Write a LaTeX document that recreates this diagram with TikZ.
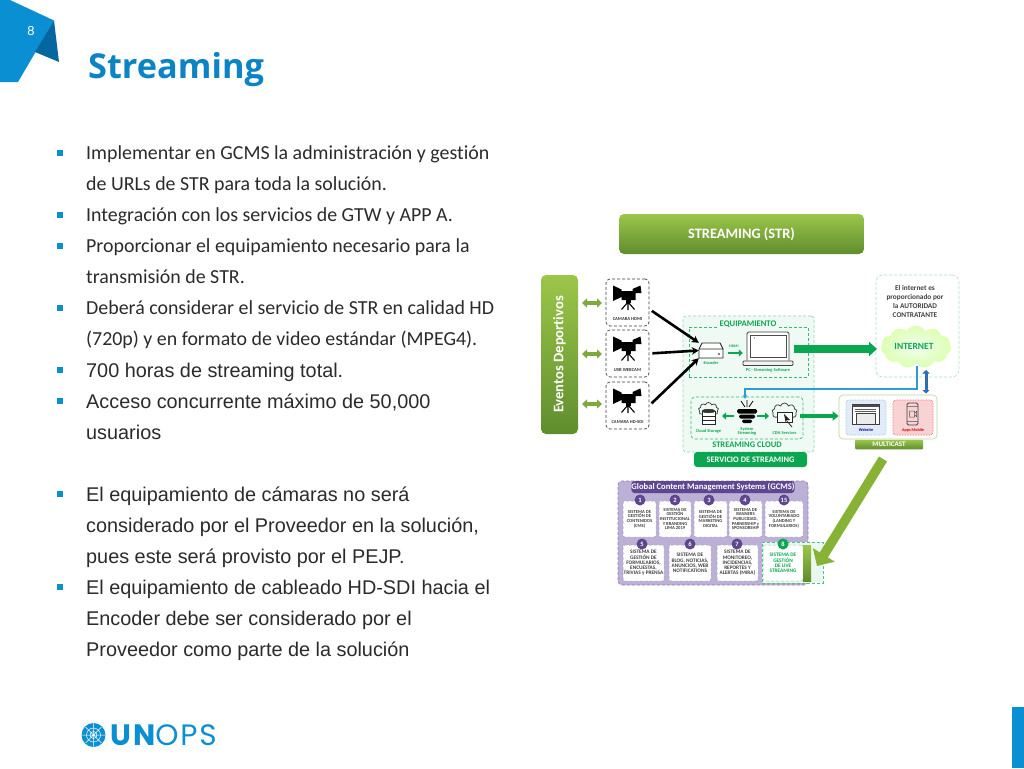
\documentclass[tikz,border=0pt]{standalone}
\usepackage{fontspec}
\setmainfont[Ligatures=NoCommon]{Carlito}
\newfontfamily\arialf{Liberation Sans}
\newfontfamily\titlef{Open Sans}
\newfontfamily\logof[LetterSpace=6]{Poppins}
\usetikzlibrary{arrows.meta,shapes.symbols,calc}
\definecolor{unblue}{HTML}{0A8FD2}
\definecolor{undark}{HTML}{06669F}
\definecolor{titleblue}{HTML}{0B84C6}
\definecolor{bodytxt}{HTML}{2B2B2B}
\definecolor{strg}{HTML}{0BA650}
\definecolor{limeT}{HTML}{9CC649}
\definecolor{limeB}{HTML}{5F8D2E}
\definecolor{limeA}{HTML}{7FA83E}
\definecolor{limeD}{HTML}{86B236}
\definecolor{purp}{HTML}{5E4691}
\definecolor{purpL}{HTML}{BDB0D6}
\definecolor{wire}{HTML}{2F9BD6}
\definecolor{dblue}{HTML}{2F6DB5}
\definecolor{webfill}{HTML}{E2ECF8}
\definecolor{webline}{HTML}{8FB8E4}
\definecolor{appfill}{HTML}{F9D3D3}
\newcommand{\fsz}[1]{\fontsize{#1}{#1}\selectfont}
\tikzset{
 x=1pt,y=-1pt,
 bodyA/.style={anchor=base west,inner sep=0pt,text=bodytxt,font=\fsz{19.9}},
 bodyB/.style={anchor=base west,inner sep=0pt,text=bodytxt,font=\arialf\fsz{19.85}},
 bulletmark/.style={fill=unblue,inner sep=0pt,minimum size=6pt,draw=none},
 limebar/.style={rounded corners=5pt,top color=limeT,bottom color=limeB,draw=none,text=white,inner sep=0pt,font=\bfseries},
 cambox/.style={draw=black!75,densely dashed,rounded corners=4pt,fill=white,line width=.7pt,minimum width=43pt,minimum height=47pt,inner sep=0pt},
 camlabel/.style={inner sep=0pt,font=\bfseries\fsz{4.6},text=black!80},
 greenbox/.style={draw=strg!80,densely dashed,line width=.7pt,inner sep=0pt},
 tiny/.style={inner sep=0pt,font=\bfseries\fsz{4.4},text=strg,align=center},
 dbl/.style={draw=limeA,line width=3.2pt,{Triangle[length=5pt,width=9pt]}-{Triangle[length=5pt,width=9pt]}},
 feed/.style={draw=black,line width=2.6pt,-{Stealth[length=7pt,width=7.5pt]},shorten <=3pt},
 gbox/.style={fill=white,draw=purp!55,densely dashed,line width=.5pt,rounded corners=2pt,inner sep=0pt,align=center,font=\bfseries\fsz{4.6},text=black!75},
 gboxb/.style={gbox,font=\bfseries\fsz{5.3}},
 badge/.style={circle,fill=purp,text=white,inner sep=0pt,minimum size=11pt,font=\bfseries\fsz{6.5}},
 camera/.pic={
  \fill[black] (-14.5,-16.5) -- (-6,-12.5) -- (-6,-11) -- (5,-11) -- (5,-13) -- (13,-16.5) -- (14,-9) -- (8,-9) -- (8,-2) -- (-6,-2) -- (-6,-5) -- (-14.5,-1) -- cycle;
  \fill[black] (-2,-2) rectangle (3,0.5);
  \draw[black,line width=1.1pt] (.5,-.5) -- (.5,8) (.5,0) -- (-6,7.5) (.5,0) -- (7,7.5);
 }
}
\begin{document}
\begin{tikzpicture}
\useasboundingbox (0,0) rectangle (1024,768);
\fill[white] (0,0) rectangle (1024,768);
% corner and bar
\fill[unblue] (0,0) -- (10,0) -- (54,20.5) -- (35,53) -- (18,82) -- (0,82) -- cycle;
\fill[undark] (54,20.5) -- (59,62) -- (35,52) -- cycle;
\node[inner sep=0pt,text=white,font=\arialf\fsz{13}] (pageno) at (31,31) {8};
\fill[unblue] (1012,707) rectangle (1024,768);
\node[anchor=base west,inner sep=0pt,text=titleblue,font=\titlef\bfseries\fsz{34.3}] (title) at (88,78) {Streaming};
% body text
\foreach \yy in {153,215,246,308,370,401,494,587}{\node[bulletmark] at (60,\yy) {};}
\node[bodyA] (t1) at (86,159) {Implementar en GCMS la administración y gestión};
\node[bodyA] (t2) at (86,190) {de URLs de STR para toda la solución.};
\node[bodyA] (t3) at (86,221) {Integración con los servicios de GTW y APP A.};
\node[bodyA] (t4) at (86,252) {Proporcionar el equipamiento necesario para la};
\node[bodyA] (t5) at (86,283) {transmisión de STR.};
\node[bodyA] (t6) at (86,314) {Deberá considerar el servicio de STR en calidad HD};
\node[bodyA] (t7) at (86,345) {(720p) y en formato de video estándar (MPEG4).};
\node[bodyB] (t8) at (86,377) {700 horas de streaming total.};
\node[bodyB] (t9) at (86,408) {Acceso concurrente máximo de 50,000};
\node[bodyB] (t10) at (86,439) {usuarios};
\node[bodyB] (t11) at (86,501) {El equipamiento de cámaras no será};
\node[bodyB] (t12) at (86,532) {considerado por el Proveedor en la solución,};
\node[bodyB] (t13) at (86,563) {pues este será provisto por el PEJP.};
\node[bodyB] (t14) at (86,594) {El equipamiento de cableado HD-SDI hacia el};
\node[bodyB] (t15) at (86,625) {Encoder debe ser considerado por el};
\node[bodyB] (t16) at (86,656) {Proveedor como parte de la solución};
% logo
\begin{scope}[shift={(93.5,735)}]
 \fill[unblue] (0,0) circle (12);
 \draw[white,line width=.5pt] (0,0) circle (3.5) (0,0) circle (7) (-12,0) -- (12,0) (0,-12) -- (0,12) (-8,-8) -- (8,8) (-8,8) -- (8,-8);
\end{scope}
\node[anchor=base west,inner sep=0pt,text=unblue,font=\logof\fsz{29.5}] (unops) at (110.5,745) {{\bfseries UN}OPS};
% diagram
\node[limebar,minimum width=245pt,minimum height=40pt,font=\bfseries\fsz{14.4}] (strbar) at (741.5,234) {STREAMING (STR)};
\node[limebar,minimum width=37pt,minimum height=159pt] (eventos) at (559.5,354.5) {};
\node[inner sep=0pt,text=white,font=\bfseries\fsz{14.6},rotate=90] (eventosT) at (559.5,354.5) {Eventos Deportivos};
\node[cambox] (camA) at (627.5,302.5) {};
\node[cambox] (camB) at (627.5,353.5) {};
\node[cambox] (camC) at (627.5,405.5) {};
\pic at (627.5,302) {camera};
\pic at (627.5,353) {camera};
\pic at (627.5,405) {camera};
\node[camlabel] (labA) at (627.5,319) {CAMARA HDMI};
\node[camlabel] (labB) at (627.5,370.5) {USB WEBCAM};
\node[camlabel] (labC) at (627.5,422.5) {CAMARA HD-SDI};
\draw[dbl] (582,303) -- (602,303);
\draw[dbl] (582,354) -- (602,354);
\draw[dbl] (582,404) -- (602,404);
% servicio
\node[draw=strg!45,densely dashed,fill=strg!6,rounded corners=3pt,minimum width=131pt,minimum height=136pt,inner sep=0pt,line width=.6pt] (srv) at (748.5,384) {};
\node[greenbox,minimum width=119pt,minimum height=50pt] (equip) at (748.5,352) {};
\node[inner sep=1pt,text=strg,font=\bfseries\fsz{8.6},fill=strg!6] (equipT) at (748,324.5) {EQUIPAMIENTO};
\node[greenbox,rounded corners=4pt,minimum width=112pt,minimum height=42pt] (cloudbox) at (747,418) {};
\node[inner sep=0pt,text=strg,font=\bfseries\fsz{8.5}] (cloudT) at (747,445) {STREAMING CLOUD};
\node[rounded corners=3pt,fill=strg,text=white,minimum width=113pt,minimum height=15pt,inner sep=0pt,font=\bfseries\fsz{8.4}] (srvbar) at (750.5,459.5) {SERVICIO DE STREAMING};
% encoder
\node[minimum width=24pt,minimum height=15pt,inner sep=0pt] (enc) at (711,350.5) {};
\draw[black!85,line width=.9pt,fill=white,line join=round] (702,343) -- (720,343) -- (723,349) -- (723,358) -- (699,358) -- (699,349) -- cycle (699,349) -- (723,349);
\fill[black] (719,354) circle (.8);
\node[tiny] (encT) at (711,363) {Encoder};
% laptop
\node[minimum width=50pt,minimum height=34pt,inner sep=0pt] (lap) at (768,349) {};
\draw[black!75,line width=.9pt,fill=white,rounded corners=1.5pt] (747,360.5) -- (747,332) -- (789,332) -- (789,360.5);
\draw[black!70,line width=.7pt] (750,335) rectangle (786,357);
\draw[black!75,line width=.8pt,fill=black!5,rounded corners=1pt] (743,361) rectangle (793,365.5);
\fill[black!60] (754.5,338) circle (.7);
\node[tiny] (lapT) at (768,370) {PC - Streaming Software};
\node[tiny,font=\bfseries\fsz{3.8}] (hdmiT) at (734,346) {HDMI};
\draw[strg,line width=2.6pt,-{Triangle[length=4pt,width=7pt]}] (728,353) -- (lap.west |- 0,353);
% internet
\node[draw=strg!35,densely dashed,fill=white,rounded corners=7pt,minimum width=83pt,minimum height=102pt,inner sep=0pt,line width=.6pt] (netbox) at (917.5,326) {};
\node[inner sep=0pt,align=center,font=\bfseries\fsz{7.3},text=black!75] (netT) at (915,301.5) {El internet es\\[1.7pt]proporcionado por\\[1.7pt]la AUTORIDAD\\[1.7pt]CONTRATANTE};
\node[cloud,cloud puffs=11,cloud puff arc=120,cloud ignores aspect,minimum width=70pt,minimum height=42pt,inner sep=0pt,inner color=white!70!green!18,outer color=green!45!yellow!30,draw=green!40!yellow!30,line width=.4pt] (net) at (916,347) {};
\node[inner sep=0pt,text=strg,font=\bfseries\fsz{9.5}] (netL) at (914,346.5) {INTERNET};
\coordinate (bigTip) at (877,349);
\draw[strg,line width=7.5pt,-{Triangle[length=8pt,width=14pt]}] (lap.east |- bigTip) ++(1,0) -- (bigTip);
% multicast
\node[draw=limeA!50,fill=white,rounded corners=4pt,minimum width=98pt,minimum height=44pt,inner sep=0pt,line width=.6pt] (mc) at (888,417) {};
\node[limebar,rounded corners=1pt,minimum width=68pt,minimum height=9.5pt,font=\bfseries\fsz{7}] (mcbar) at (889,444.5) {MULTICAST};
\node[draw=webline,densely dotted,fill=webfill,rounded corners=3pt,minimum width=40pt,minimum height=35pt,inner sep=0pt,line width=.6pt] (web) at (866,417.5) {};
\node[draw=red!70,densely dotted,fill=appfill,rounded corners=3pt,minimum width=40pt,minimum height=35pt,inner sep=0pt,line width=.6pt] (app) at (913,417.5) {};
\draw[black!75,fill=white,line width=.8pt] (852,404.5) rectangle (879,424);
\fill[black!70] (852,404.5) rectangle (879,407);
\draw[black!65,line width=.5pt] (855,409) -- (876,409) (855,411) -- (876,411);
\draw[black!75,line width=.8pt,fill=black!8] (856,413) rectangle (875,424);
\node[inner sep=0pt,font=\bfseries\fsz{4.2},text=blue!60!black] (webT) at (866,430) {Website};
\draw[black!75,fill=none,line width=.8pt,rounded corners=1.5pt] (907,403) rectangle (918,425);
\draw[black!70,line width=.5pt] (907,406.5) -- (918,406.5) (907,421.5) -- (918,421.5) (909.5,411) rectangle (914.5,417) (914.5,413) -- (916.5,411.5) -- (916.5,416.5) -- (914.5,415);
\node[inner sep=0pt,font=\bfseries\fsz{4.2},text=red!80!black] (appT) at (913,430) {Apps Mobile};
% cloud icons
\node[cloud,cloud puffs=9,cloud ignores aspect,draw=black!80,line width=.7pt,minimum width=20pt,minimum height=15pt,inner sep=0pt] (store) at (708.5,410) {};
\draw[black!85,fill=white,line width=.6pt] (702,411) rectangle (715,424);
\draw[black!85,fill=black!80] (708.5,411) ellipse (6.5 and 1.8);
\draw[black!85,line width=.6pt] (702,416) -- (715,416) (702,420) -- (715,420);
\node[tiny] (storeT) at (708.5,431) {Cloud Storage};
\node[minimum width=20pt,minimum height=23pt,inner sep=0pt] (sys) at (747,411.5) {};
\fill[black,rounded corners=1.5pt] (737,409) rectangle (757,413.5);
\fill[black,rounded corners=1.5pt] (739,414.5) rectangle (755,418.5);
\fill[black,rounded corners=1.5pt] (742,419.5) rectangle (752,423);
\draw[black,line width=.8pt] (741,401) -- (745,407) (747,400) -- (747,407) (753,401) -- (749,407);
\node[tiny] (sysT) at (747,431) {System\\[-.5pt]Streaming};
\node[cloud,cloud puffs=9,cloud ignores aspect,draw=black!80,line width=.7pt,minimum width=25pt,minimum height=18pt,inner sep=0pt] (cdn) at (784.5,412) {};
\draw[black!85,fill=white,line width=.7pt] (777,412) rectangle (792,422);
\fill[black!85] (784,414) -- (790,420) -- (787,420) -- (785.5,422) -- cycle;
\draw[black!85,line width=.8pt] (787,421) -- (792,427);
\node[tiny] (cdnT) at (784.5,432.5) {CDN Services};
\draw[strg,line width=2.6pt,-{Triangle[length=4pt,width=7pt]}] (734,416) -- (722,416);
\draw[strg,line width=2.6pt,-{Triangle[length=4pt,width=7pt]}] (757,416) -- (769,416);
\draw[strg,line width=4.5pt,-{Triangle[length=6pt,width=9pt]}] (800,416) -- (mc.west |- 0,416);
% blue links
\draw[wire,line width=1.1pt,-{Stealth[length=4pt,width=4pt]}] (917,366) -- (917,389) -- (745,389) -- (745,399);
\draw[dblue,line width=3pt,{Triangle[length=3.5pt,width=7pt]}-{Triangle[length=3.5pt,width=7pt]}] (926,370) -- (926,393.5);
% black feeds
\draw[feed] (camA.-17) -- (enc.north west);
\draw[feed] (camB.east) -- (enc.west);
\draw[feed] (camC.east) -- (enc.south west);
% GCMS
\node[draw=purp!70,densely dashed,fill=purpL,rounded corners=4pt,minimum width=190pt,minimum height=104pt,inner sep=0pt,line width=.7pt] (gcms) at (713,533) {};
\node[rounded corners=3pt,fill=purp,text=white,minimum width=160pt,minimum height=12pt,inner sep=0pt,font=\bfseries\fsz{8.6}] (gcmsT) at (713,487) {Global Content Management Systems (GCMS)};
\node[gbox,minimum width=33pt,minimum height=36pt] (g1) at (639.5,519) {SISTEMA DE\\GESTIÓN DE\\CONTENIDOS\\(CMS)};
\node[gbox,minimum width=32pt,minimum height=36pt] (g2) at (675,519) {SISTEMA DE\\GESTIÓN\\INSTITUCIONAL\\Y BRANDING\\LIMA 2019};
\node[gbox,minimum width=33pt,minimum height=36pt] (g3) at (710.5,519) {SISTEMA DE\\GESTIÓN DE\\MARKETING\\DIGITAL};
\node[gbox,minimum width=33pt,minimum height=36pt] (g4) at (745.5,519) {SISTEMA DE\\BANNERS\\PUBLICIDAD,\\PARNERSHIP y\\SPONSORSHIP};
\node[gbox,minimum width=38pt,minimum height=36pt] (g15) at (784,519) {SISTEMA DE\\VOLUNTARIADO\\(LANDING Y\\FORMULARIOS)};
\node[gboxb,minimum width=41pt,minimum height=36pt] (g5) at (643.5,563) {SISTEMA DE\\GESTIÓN DE\\FORMULARIOS,\\ENCUESTAS,\\TRIVIAS y PRENSA};
\node[gboxb,minimum width=42pt,minimum height=36pt] (g6) at (690,563) {SISTEMA DE\\BLOG, NOTICIAS,\\ANUNCIOS, WEB\\NOTIFICATIONS};
\node[gboxb,minimum width=41pt,minimum height=36pt] (g7) at (737.5,563) {SISTEMA DE\\MONITOREO,\\INCIDENCIAS,\\REPORTES Y\\ALERTAS (MIRA)};
\node[draw=strg!70,densely dashed,fill=strg!8,line width=.6pt,minimum width=61pt,minimum height=41pt,inner sep=0pt] (liveout) at (792.5,562.5) {};
\node[gboxb,text=strg,draw=strg!50,minimum width=40pt,minimum height=36pt] (g8) at (783,563) {SISTEMA DE\\GESTIÓN\\DE LIVE\\STREAMING};
\shade[top color=limeT,bottom color=limeB] (803,545) rectangle (811,581);
\foreach \nn/\xx/\yy in {1/640/500,2/675/500,3/709/500,4/745/500,15/784/500,5/642/544,6/690/544,7/737/544}{\node[badge] at (\xx,\yy) {\nn};}
\node[badge,fill=strg] (b8) at (783,544) {8};
% big diagonal arrow
\coordinate (diagStart) at (883,459);
\coordinate (diagTip) at (817,566);
\draw[limeD,line width=9.5pt,-{Triangle[length=13pt,width=25pt]}] (diagStart) -- (diagTip);
\end{tikzpicture}
\end{document}
